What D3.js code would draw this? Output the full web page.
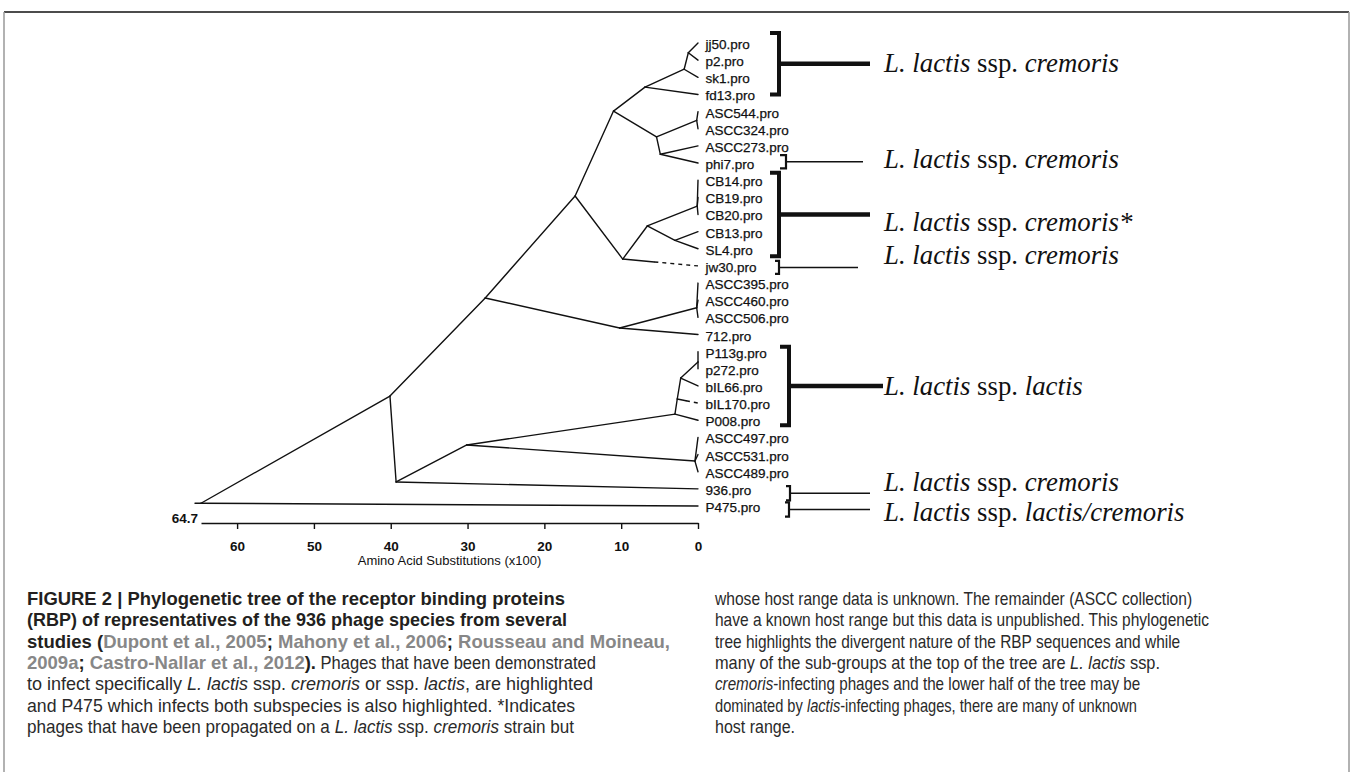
<!DOCTYPE html>
<html><head><meta charset="utf-8">
<script src="https://cdn.jsdelivr.net/npm/d3@7"></script>
<style>
body{margin:0;background:#fff;}
svg{display:block;}
text{white-space:pre;}
</style></head>
<body><svg id="chart" width="1353" height="772"></svg>
<script>
// ---------------- DATA ----------------
const leaves = ["jj50.pro","p2.pro","sk1.pro","fd13.pro","ASC544.pro","ASCC324.pro","ASCC273.pro","phi7.pro",
  "CB14.pro","CB19.pro","CB20.pro","CB13.pro","SL4.pro","jw30.pro","ASCC395.pro","ASCC460.pro","ASCC506.pro",
  "712.pro","P113g.pro","p272.pro","bIL66.pro","bIL170.pro","P008.pro","ASCC497.pro","ASCC531.pro","ASCC489.pro",
  "936.pro","P475.pro"];
const leafParents = ["N0","N0","N1","N2","P","P","N5","N5","M","M","M","H","H","I","L","L","L","K",
  "Z","Z","Y","X","E","F","F","F","C","root"];
// internal nodes: id, parent, distance (x100 substitutions), row position
const nodeIds     = ["root","A","C","D","E","X","Y","Z","F","B","K","L","J","I","G","M","H","N3","N2","N1","N0","N4","P","N5"];
const nodeParents = [null,"root","A","C","D","E","X","Y","D","A","B","K","B","J","I","G","G","J","N3","N2","N1","N3","N4","N4"];
const nodeDist    = [64.7,40.1,39.3,30.1,3.0,2.7,2.25,0,0.4,27.7,10.2,0.17,16.0,9.8,6.6,0.1,3.0,11.0,6.9,1.8,1.26,5.4,0.17,4.9];
const nodeRow     = [26.84,20.59,25.60,23.44,21.64,20.76,19.54,18.60,24.38,14.87,16.62,15.44,8.92,12.60,10.67,9.51,11.51,3.97,2.57,1.53,0.57,5.48,4.51,6.49];
const dashedLeaves = ["jw30.pro","bIL170.pro"];
const axisTicks = [60,50,40,30,20,10,0];
const axisMax = 64.7;
const axisTitle = "Amino Acid Substitutions (x100)";

// host-range annotation groups
const groupFirst = ["jj50.pro","phi7.pro","CB14.pro","jw30.pro","P113g.pro","936.pro","P475.pro"];
const groupLast  = ["fd13.pro","phi7.pro","SL4.pro","jw30.pro","P008.pro","936.pro","P475.pro"];
const groupHost  = ["cremoris","cremoris","cremoris*","cremoris","lactis","cremoris","lactis/cremoris"];
const groupThick = [true,false,true,false,true,false,false];

// caption (segments: text, style b=bold, g=gray bold, r=regular, i=italic)
const captionLeft = [
  [["FIGURE 2 | Phylogenetic tree of the receptor binding proteins","b"]],
  [["(RBP) of representatives of the 936 phage species from several","b"]],
  [["studies (","b"],["Dupont et al., 2005","g"],["; ","b"],["Mahony et al., 2006","g"],["; ","b"],["Rousseau and Moineau,","g"]],
  [["2009a","g"],["; ","b"],["Castro-Nallar et al., 2012","g"],[").","b"],[" Phages that have been demonstrated","r"]],
  [["to infect specifically ","r"],["L. lactis","i"],[" ssp. ","r"],["cremoris","i"],[" or ssp. ","r"],["lactis","i"],[", are highlighted","r"]],
  [["and P475 which infects both subspecies is also highlighted. *Indicates","r"]],
  [["phages that have been propagated on a ","r"],["L. lactis","i"],[" ssp. ","r"],["cremoris","i"],[" strain but","r"]]
];
const captionRight = [
  [["whose host range data is unknown. The remainder (ASCC collection)","r"]],
  [["have a known host range but this data is unpublished. This phylogenetic","r"]],
  [["tree highlights the divergent nature of the RBP sequences and while","r"]],
  [["many of the sub-groups at the top of the tree are ","r"],["L. lactis","i"],[" ssp.","r"]],
  [["cremoris","i"],["-infecting phages and the lower half of the tree may be","r"]],
  [["dominated by ","r"],["lactis","i"],["-infecting phages, there are many of unknown","r"]],
  [["host range.","r"]]
];

// ---------------- LAYOUT ----------------
const bracketX      = [779,786,779,779,789,790,789];
const bracketStub   = [9,6,9,4,9,4,4];
const bracketPadTop = [10,8,7.5,5,5,2.7,3.7];
const bracketPadBot = [0,5.3,7.5,8,5,11.6,10.7];
const lineEndX      = [870,863,870,858,883,870,870];
const labelBaseline = [72,168,231,264,395,491,521];
const labelX = 884;
const capLeftWidths  = [538,540,643,569,566,548,547];
const capRightWidths = [477,494,465,445,425,422,80];

const svg = d3.select("#chart");
const ink = "#111";

// frame
svg.append("line").attr("x1",4).attr("x2",1349).attr("y1",12).attr("y2",12).attr("stroke","#111").attr("stroke-width",1.6);
svg.append("line").attr("x1",4).attr("x2",4).attr("y1",12).attr("y2",772).attr("stroke","#999").attr("stroke-width",1.5);
svg.append("line").attr("x1",1349).attr("x2",1349).attr("y1",12).attr("y2",772).attr("stroke","#999").attr("stroke-width",1.5);

const x = d3.scaleLinear().domain([axisMax,0]).range([201,698]);
const y = d3.scaleLinear().domain([0,leaves.length-1]).range([43,506]);

const pos = {};
nodeIds.forEach((id,i)=>pos[id]={x:x(nodeDist[i]),y:y(nodeRow[i])});
leaves.forEach((n,i)=>pos[n]={x:x(0),y:y(i)});

const edges = [];
nodeIds.forEach((id,i)=>{ if(nodeParents[i]) edges.push({p:nodeParents[i],c:id,dashed:false}); });
leaves.forEach((n,i)=>edges.push({p:leafParents[i],c:n,dashed:dashedLeaves.includes(n)}));

const gTree = svg.append("g").attr("stroke",ink).attr("stroke-width",1.4).attr("fill","none").attr("stroke-linecap","round");
gTree.append("line").attr("x1",x(axisMax)-6).attr("y1",pos.root.y).attr("x2",pos.root.x).attr("y2",pos.root.y);
edges.forEach(e=>{
  const a=pos[e.p], b=pos[e.c];
  if(!e.dashed){
    gTree.append("line").attr("x1",a.x).attr("y1",a.y).attr("x2",b.x).attr("y2",b.y);
  } else {
    const t=0.42, mx=a.x+(b.x-a.x)*t, my=a.y+(b.y-a.y)*t;
    gTree.append("line").attr("x1",a.x).attr("y1",a.y).attr("x2",mx).attr("y2",my);
    gTree.append("line").attr("x1",mx).attr("y1",my).attr("x2",b.x).attr("y2",b.y)
      .attr("stroke-dasharray","4,4").attr("stroke-linecap","butt");
  }
});

// leaf labels
svg.append("g").selectAll("text").data(leaves).join("text")
  .attr("x",x(0)+7.5).attr("y",(d,i)=>y(i)+1.5).attr("dominant-baseline","central")
  .attr("font-family","'Liberation Sans',Arial,sans-serif").attr("font-size",13.5).attr("fill",ink)
  .attr("stroke",ink).attr("stroke-width",0.25)
  .text(d=>d);

// axis
const axisY = 523;
const ax = svg.append("g").attr("transform",`translate(0,${axisY})`)
  .call(d3.axisBottom(x).tickValues(axisTicks).tickSize(6).tickSizeOuter(0).tickFormat(d3.format("d")));
ax.select(".domain").attr("stroke",ink).attr("stroke-width",1.6);
ax.selectAll(".tick line").attr("stroke",ink).attr("stroke-width",1.4);
ax.selectAll(".tick text").attr("y",23).attr("dy",0).attr("dominant-baseline","central")
  .attr("font-family","'Liberation Sans',Arial,sans-serif").attr("font-weight","bold").attr("font-size",13.5).attr("fill",ink);
svg.append("text").attr("x",x(axisMax)-3).attr("y",axisY).attr("text-anchor","end")
  .attr("font-family","'Liberation Sans',Arial,sans-serif").attr("font-weight","bold").attr("font-size",13.5).attr("fill",ink)
  .text(String(axisMax));
svg.append("text").attr("x",(x(axisMax)+x(0))/2).attr("y",axisY+42).attr("text-anchor","middle")
  .attr("font-family","'Liberation Sans',Arial,sans-serif").attr("font-size",13).attr("fill",ink)
  .text(axisTitle);

// brackets + host labels
const gAnn = svg.append("g");
groupFirst.forEach((f,i)=>{
  const top = y(leaves.indexOf(f)) - bracketPadTop[i];
  const bot = y(leaves.indexOf(groupLast[i])) + bracketPadBot[i];
  const mid = (top+bot)/2;
  const bx = bracketX[i], sw = groupThick[i]?4:2.2;
  gAnn.append("path").attr("d",`M${bx-bracketStub[i]},${top}H${bx}V${bot}H${bx-bracketStub[i]}`)
    .attr("fill","none").attr("stroke",ink).attr("stroke-width",sw).attr("stroke-linejoin","miter");
  gAnn.append("line").attr("x1",bx).attr("x2",lineEndX[i]).attr("y1",mid).attr("y2",mid)
    .attr("stroke",ink).attr("stroke-width",groupThick[i]?4.5:1.4);
  const t = gAnn.append("text").attr("x",labelX).attr("y",labelBaseline[i])
    .attr("font-family","'Liberation Serif','Times New Roman',serif").attr("font-size",26.8).attr("fill",ink);
  t.append("tspan").attr("font-style","italic").text("L. lactis");
  t.append("tspan").text(" ssp. ");
  t.append("tspan").attr("font-style","italic").text(groupHost[i]);
});

// caption: each segment its own text, regular segments condensed so each line matches its width
const capFont = "'Liberation Sans',Arial,sans-serif";
const capStyle = {
  b:{w:"bold",c:"#231f20",s:"normal"},
  g:{w:"bold",c:"#878787",s:"normal"},
  r:{w:"normal",c:"#2a2a2a",s:"normal"},
  i:{w:"normal",c:"#2a2a2a",s:"italic"}
};
const measureG = svg.append("g").attr("opacity",0);
function measure(txt,st,fs){
  const t = measureG.append("text").attr("font-family",capFont).attr("font-size",fs)
    .attr("font-weight",capStyle[st].w).attr("font-style",capStyle[st].s).text(txt);
  const w = t.node().getComputedTextLength(); t.remove(); return w;
}
let w16 = 0; captionLeft[2].forEach(([t,s])=>w16+=measure(t,s,16));
const capSize = Math.max(13, Math.min(20, 16*643/w16));

function drawCol(lines,x0,widths){
  const g = svg.append("g");
  lines.forEach((segs,li)=>{
    const yy = 605+li*21.3;
    const ws = segs.map(([t,s])=>measure(t,s,capSize));
    let wb=0, wr=0;
    segs.forEach(([t,s],k)=>{ if(s==="r"||s==="i") wr+=ws[k]; else wb+=ws[k]; });
    let fb=1, fr=1;
    if (wr>0) fr = Math.max(0.7, Math.min(1.05,(widths[li]-wb)/wr));
    else fb = Math.max(0.9, Math.min(1.05, widths[li]/wb));
    let cx = x0;
    segs.forEach(([txt,st],k)=>{
      const f = (st==="r"||st==="i") ? fr : fb;
      g.append("text").attr("transform",`translate(${cx},${yy}) scale(${f},1)`)
        .attr("font-family",capFont).attr("font-size",capSize)
        .attr("font-weight",capStyle[st].w).attr("fill",capStyle[st].c).attr("font-style",capStyle[st].s)
        .text(txt);
      cx += ws[k]*f;
    });
  });
}
drawCol(captionLeft,27,capLeftWidths);
drawCol(captionRight,715,capRightWidths);
measureG.remove();
</script>
</body></html>
